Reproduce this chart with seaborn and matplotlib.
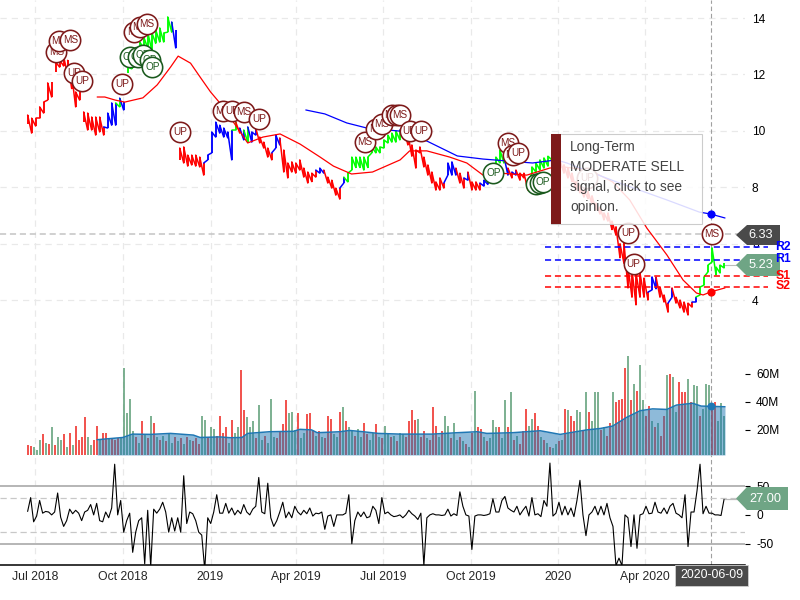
import pandas as pd
import matplotlib
matplotlib.use("Agg")
import matplotlib.pyplot as plt
from matplotlib.patches import Polygon, Rectangle
import seaborn as sns

# daily-ish price range, one entry per sampled session
price_low = [
    10.24, 9.92, 10.17, 10.45, 10.63, 11.09, 11.2, 12.09, 12.26, 12.3, 12.0, 11.5, 10.85, 11.09, 10.31,
    10.03, 10.03, 9.85, 9.96, 9.85, 10.10, 10.2, 10.2, 10.85, 10.74, 12.05, 12.2, 12.5, 12.87, 12.94,
    12.94, 12.87, 13.1, 13.15, 13.15, 13.5, 13.5, 12.94, 8.97, 8.86, 8.75, 8.79, 8.75, 8.72, 8.43,
    8.97, 9.22, 9.78, 9.92, 9.78, 9.75, 8.97, 10.03, 9.92, 9.68, 9.6, 9.6, 9.85, 9.57, 9.39,
    9.07, 8.97, 9.39, 9.5, 8.54, 8.33, 8.54, 8.5, 8.61, 8.36, 8.15, 8.2, 8.36, 8.5, 8.5,
    8.15, 7.97, 7.72, 7.58, 8.15, 8.19, 8.61, 8.7, 8.7, 8.61, 8.7, 9.22, 9.22, 9.22, 9.39,
    9.57, 9.6, 9.6, 9.68, 9.75, 9.5, 9.1, 8.68, 9.22, 8.72, 8.43, 8.15, 7.9, 7.9, 7.97,
    8.43, 8.43, 8.43, 8.15, 7.97, 8.25, 7.9, 7.9, 7.9, 8.04, 8.1, 8.3, 8.86, 8.86, 8.86,
    8.43, 8.33, 8.43, 8.25, 8.33, 7.9, 8.5, 8.54, 8.61, 8.68, 8.75, 8.97, 9.05, 8.72, 8.5,
    8.33, 8.2, 7.9, 7.8, 7.65, 7.6, 7.4, 7.19, 7.05, 6.84, 6.8, 6.5, 6.3, 5.5, 5.3,
    4.43, 4.1, 3.83, 4.1, 4.1, 4.0, 4.36, 4.4, 4.1, 3.93, 3.57, 4.1, 3.89, 3.72, 3.57,
    3.47, 3.75, 3.93, 4.18, 4.53, 5.0, 5.35, 4.89, 4.96, 5.14,
]
price_high = [
    10.56, 10.45, 10.45, 10.85, 11.02, 11.70, 11.73, 12.44, 12.51, 12.62, 12.5, 12.0, 11.38, 11.38, 10.67,
    10.63, 10.49, 10.49, 10.49, 10.14, 10.63, 10.99, 10.99, 11.16, 11.02, 12.27, 12.5, 12.9, 13.15, 13.33,
    13.5, 13.5, 13.58, 13.65, 13.47, 14.04, 13.86, 13.58, 9.39, 9.43, 9.14, 9.14, 9.14, 9.07, 8.86,
    9.14, 9.96, 10.31, 10.2, 10.1, 9.96, 10.03, 10.31, 10.1, 10.03, 10.14, 9.96, 10.1, 9.78, 9.6,
    9.39, 9.22, 9.85, 9.75, 9.32, 8.86, 8.9, 8.86, 8.97, 8.68, 8.54, 8.5, 8.61, 8.68, 8.61,
    8.36, 8.25, 7.97, 7.97, 8.36, 8.5, 9.07, 9.07, 9.07, 9.07, 9.07, 9.43, 9.43, 9.43, 9.68,
    9.85, 9.92, 10.0, 10.03, 10.1, 9.9, 9.5, 9.32, 9.43, 9.07, 8.79, 8.54, 8.19, 8.33, 8.15,
    8.86, 8.9, 8.68, 8.5, 8.33, 8.54, 8.19, 8.19, 8.15, 8.25, 8.3, 8.6, 9.07, 9.32, 9.1,
    8.68, 8.54, 8.61, 8.5, 8.5, 8.2, 8.72, 8.86, 8.97, 9.04, 9.1, 9.32, 9.4, 8.97, 8.8,
    8.68, 8.5, 8.2, 8.05, 7.9, 7.85, 7.7, 7.44, 7.3, 7.09, 7.09, 6.8, 6.6, 6.0, 6.02,
    5.17, 5.07, 4.96, 4.96, 4.78, 4.28, 4.82, 4.82, 4.46, 4.18, 3.89, 4.43, 4.1, 4.0, 3.93,
    3.89, 3.93, 4.11, 4.46, 4.82, 5.24, 5.85, 5.17, 5.24, 5.31,
]
trend_runs = [
    ("red", 20), ("blue", 3), ("lime", 1), ("blue", 1), ("lime", 12), ("blue", 1), ("red", 7), ("blue", 7),
    ("lime", 1), ("red", 1), ("blue", 1), ("lime", 1), ("blue", 2), ("red", 4), ("blue", 2), ("red", 9),
    ("blue", 2), ("red", 4), ("blue", 1), ("lime", 14), ("blue", 1), ("red", 10), ("blue", 3), ("red", 2),
    ("blue", 1), ("red", 3), ("blue", 2), ("lime", 4), ("blue", 1), ("red", 1), ("blue", 1), ("red", 3),
    ("lime", 7), ("blue", 1), ("red", 22), ("blue", 2), ("red", 3), ("blue", 1), ("red", 5), ("blue", 1),
    ("lime", 7),
]

ma_red_dates = [
    "2018-09-04", "2018-09-12", "2018-09-23", "2018-10-03", "2018-10-22", "2018-11-06", "2018-11-20",
    "2018-11-28", "2018-12-11", "2018-12-21", "2019-01-01", "2019-01-09", "2019-01-25", "2019-02-09",
    "2019-02-25", "2019-03-15", "2019-04-05", "2019-04-26", "2019-05-10", "2019-05-29", "2019-06-20",
    "2019-07-19", "2019-07-29", "2019-08-16", "2019-09-09", "2019-09-27", "2019-10-14", "2019-11-01",
    "2019-11-29", "2019-12-23", "2020-01-06", "2020-02-03", "2020-02-27", "2020-03-16", "2020-04-03",
    "2020-04-24", "2020-05-11", "2020-05-25", "2020-06-01", "2020-06-09", "2020-06-24",
]
ma_red = [
    11.2, 11.2, 11.09, 11.02, 11.17, 11.63, 12.26, 12.65, 12.4, 11.91, 11.38, 11.06, 10.31, 9.57, 9.78,
    9.89, 9.53, 9.07, 8.75, 8.47, 8.54, 8.97, 9.29, 9.29, 9.07, 8.86, 8.43, 8.5, 8.43, 8.68, 8.72,
    8.61, 8.19, 7.55, 6.55, 5.6, 4.71, 4.25, 4.18, 4.29, 4.43,
]
ma_blue_dates = [
    "2019-04-11", "2019-05-01", "2019-05-24", "2019-06-14", "2019-07-19", "2019-08-16", "2019-09-17",
    "2019-10-14", "2019-12-05", "2019-12-30", "2020-01-10", "2020-03-02", "2020-04-24", "2020-05-28",
    "2020-06-09", "2020-06-24",
]
ma_blue = [10.74, 10.6, 10.28, 10.1, 9.99, 9.64, 9.11, 9.0, 8.86, 8.97, 8.86, 8.19, 7.55, 7.12, 7.05, 6.91]

# signed volume in millions, negative = down day
volume_signed = [
    -9, -8.5, 8, 6, 13, -17, 11, -10, 22, -9, 15, 13, -17, 8, -18, 9, -23, -13, -15, -29, 15, 9, -13, -23, 13,
    -18, -18, 14, -14, -13, -14, 14, 64, 32, 42, 19, -15, 11, -26, 17, -14, 30, -25, 15, -13, 16, -12, 17, 11, -15,
    12, -14, 10, -15, 13, -12, -14, -10, 30, 27, -14, 22, 21, -16, -30, -18, -22, 11, -27, 18, 22, -63, -34, 29, 22,
    26, -14, 38, 13, -16, 11, 42, 15, -14, -19, -24, -41, 32, 33, 20, -32, 14, 18, -31, -32, -20, 16, -19, 15, -14,
    -30, -28, 17, 15, -33, 36, -26, 22, 19, -16, 21, 15, -25, -17, 13, 18, -24, 15, -14, 23, 18, -15, 16, -12, 18,
    17, -15, -26, -34, -27, 28, -15, -19, 14, -13, -36, -23, 15, -19, 30, 23, -14, 25, 13, -15, 12, -10, 8, -18, 48,
    -22, -21, 15, -12, 14, 27, 22, -22, 14, 41, -22, 47, -13, 16, -10, -19, -35, 23, 28, -32, -23, 15, -13, 11, -8,
    7, 10, -12, 13, -35, 34, -30, -26, 34, 33, -20, 47, -33, 26, 47, 47, -20, 22, -16, -25, 47, -40, -41, -42, -64,
    73, -41, 53, -48, 66, 41, -30, -37, 26, -22, 25, -16, -30, 59, -60, 58, 33, -54, -47, -47, 56, -40, 52, 51, -30,
    35, 53, 52, -35, -40, 26, 39, 30,
]
volume_ma_dates = [
    "2018-09-04", "2018-10-01", "2018-10-11", "2018-10-30", "2018-11-20", "2018-12-14", "2018-12-21",
    "2019-01-11", "2019-01-22", "2019-02-03", "2019-02-09", "2019-03-04", "2019-03-29", "2019-04-05",
    "2019-04-17", "2019-04-23", "2019-05-17", "2019-05-27", "2019-06-10", "2019-06-26", "2019-07-19",
    "2019-08-22", "2019-09-17", "2019-10-08", "2019-10-18", "2019-11-14", "2019-12-13", "2020-01-03",
    "2020-01-31", "2020-02-14", "2020-02-27", "2020-03-13", "2020-03-27", "2020-04-09", "2020-04-24",
    "2020-05-04", "2020-05-21", "2020-05-30", "2020-06-24",
]
volume_ma = [
    13, 14.6, 17, 16.8, 17.5, 16.3, 14.6, 15, 14.4, 14.6, 17.5, 18.7, 19, 20.4, 20, 18, 18.7, 19.6, 18.7, 17.5,
    17, 17, 18, 18.7, 17.5, 18, 19.4, 16.8, 20, 21, 22.7, 29, 33.7, 35, 34.6, 37.7, 39, 37, 36.5,
]

momentum = [
    6, 30, -12, -2, 25, 3, 6, 5, 0, 5, 38, -4, -20, -10, 10, 2, 8, 3, -10, 5, 8, 18, 0, 20, -10,
    -12, 5, -5, 12, 88, 0, 25, -30, -10, 3, -65, -30, -10, -5, -85, 8, -90, 10, 3, 10, 22, 5, -30, -5, -28,
    -5, -30, 68, -15, 5, 2, -10, -30, -35, -95, -5, -15, 5, 35, 3, 3, 20, 3, 12, 0, 8, 2, 18, 5, 0,
    10, 15, 65, 5, 2, 55, -5, -20, -10, 5, 22, -5, 5, -5, 15, 5, 0, 8, 2, 12, -2, 3, 2, 5, -25,
    -2, 0, -20, 0, 0, 0, 3, 35, -50, -10, 5, -3, 5, -5, -3, 15, 8, -15, 30, 2, 5, 0, -3, -2, 0,
    -5, 0, 8, 2, -2, -8, 3, -88, -5, 0, 2, 0, 0, -1, 0, 10, -2, 2, -1, 40, 15, 0, -2, -60, -2,
    0, 0, -1, 0, 2, 28, 5, 5, 25, 32, 12, 8, 5, 15, 0, 8, 15, -2, 30, 0, 2, -3, 25, 15, 90,
    -2, 3, 22, 0, 15, 0, 12, -3, 25, 60, 0, -36, 0, 5, 15, 0, 15, 0, 20, -5, -20, -88, -75, -88, 0,
    -5, -55, 0, -58, 0, 2, 15, 2, 3, 22, 5, 3, 12, 2, 15, 20, 3, 0, -5, 35, -55, 5, 5, 42, 88,
    2, 15, 3, 3, 0, 0, -1, 27,
]

signal_dates = [
    "2018-07-23", "2018-07-26", "2018-08-07", "2018-08-11", "2018-08-19", "2018-09-30", "2018-10-08",
    "2018-10-17", "2018-10-22", "2018-10-29", "2018-11-01", "2018-10-13", "2018-10-19", "2018-10-26",
    "2018-11-30", "2019-01-14", "2019-01-24", "2019-02-05", "2019-02-21", "2019-06-12", "2019-06-24",
    "2019-06-30", "2019-07-10", "2019-07-16", "2019-07-19", "2019-07-29", "2019-08-10", "2019-10-25",
    "2019-11-09", "2019-11-14", "2019-11-20", "2019-12-09", "2019-12-13", "2019-12-16", "2020-01-31",
    "2020-03-14", "2020-03-20", "2020-06-10",
]
signal_prices = [
    12.8, 13.19, 13.22, 12.05, 11.77, 11.66, 12.62, 12.62, 12.69, 12.51, 12.26, 13.5, 13.68, 13.79,
    9.96, 10.7, 10.7, 10.67, 10.42, 9.6, 10.07, 10.24, 10.56, 10.56, 10.56, 9.99, 9.99, 8.5,
    9.57, 9.14, 9.22, 8.1, 8.15, 8.19, 8.33, 6.38, 5.28, 6.34,
]
signal_labels = [
    "MS", "MS", "MS", "UP", "UP", "UP", "OP", "OP", "OP", "OP", "OP", "MS", "MS", "MS",
    "UP", "MS", "UP", "MS", "UP", "MS", "MS", "MS", "MS", "MS", "MS", "UP", "UP", "OP",
    "MS", "MS", "UP", "OP", "OP", "OP", "UP", "UP", "UP", "MS",
]

level_names = ["R2", "R1", "S1", "S2"]
level_values = [5.88, 5.42, 4.85, 4.46]
level_colors = ["blue", "blue", "red", "red"]

tick_dates = ["2018-07-01", "2018-10-01", "2019-01-01", "2019-04-01", "2019-07-01", "2019-10-01", "2020-01-01", "2020-04-01"]
tick_labels = ["Jul 2018", "Oct 2018", "2019", "Apr 2019", "Jul 2019", "Oct 2019", "2020", "Apr 2020"]
price_ticks = [4, 6, 8, 10, 12, 14]
volume_ticks = [20, 40, 60]
volume_tick_labels = ["20M", "40M", "60M"]
momentum_ticks = [-50, 0, 50]
momentum_tick_labels = ["-50", "0", "50"]

cursor_date = pd.Timestamp("2020-06-09")
last_price = 6.33
last_close = 5.23
first_date = "2018-06-23"
last_date = "2020-06-23"

sns.set_style("white")
plt.rcParams["font.family"] = ["Liberation Sans", "DejaVu Sans"]

DARK_RED = "#7d1a1a"
DARK_GREEN = "#1b5a1e"
BAR_RED = "#ee2a24"
BAR_GREEN = "#5f9f78"
TAG_GREY = "#4a4a4a"
TAG_GREEN = "#6fa585"
W, H = 800, 600


def px_rect(x0, y0, x1, y1):
    return [x0 / W, 1 - y1 / H, (x1 - x0) / W, (y1 - y0) / H]


def fig_xy(x, y):
    return x / W, 1 - y / H


fig = plt.figure(figsize=(8, 6), dpi=100)
ax_price = fig.add_axes(px_rect(0, 0, 745, 350))
ax_vol = fig.add_axes(px_rect(0, 350, 745, 455))
ax_mom = fig.add_axes(px_rect(0, 455, 745, 565))

xlim = (pd.Timestamp("2018-05-25"), pd.Timestamp("2020-07-15"))
ticks_x = pd.to_datetime(tick_dates)

# price bars, joined session to session so the ribbon reads as one jagged trace
price_dates = pd.date_range(first_date, last_date, periods=len(price_low))
trend = [c for c, n in trend_runs for _ in range(n)]
ax_price.vlines(price_dates, price_low, price_high, colors=trend, linewidth=1.35, zorder=3)
for i in range(len(price_dates) - 1):
    if price_low[i + 1] <= price_high[i] + 0.35 and price_high[i + 1] >= price_low[i] - 0.35:
        ax_price.plot([price_dates[i], price_dates[i + 1]], [price_high[i], price_low[i + 1]],
                      color=trend[i + 1], linewidth=1.1, zorder=3)

sns.lineplot(x=pd.to_datetime(ma_red_dates), y=ma_red, color="red", linewidth=0.9, ax=ax_price, zorder=4, legend=False)
sns.lineplot(x=pd.to_datetime(ma_blue_dates), y=ma_blue, color="blue", linewidth=0.9, ax=ax_price, zorder=4, legend=False)

for name, value, color in zip(level_names, level_values, level_colors):
    ax_price.hlines(value, pd.Timestamp("2019-12-18"), pd.Timestamp("2020-08-08"), colors=color,
                    linestyles=(0, (4, 2.5)), linewidth=1.1, zorder=5, clip_on=False)

ax_price.axhline(last_price, color="#c4c4c4", linestyle=(0, (4, 2.5)), linewidth=1.1, zorder=2)
ax_price.hlines(last_close, pd.Timestamp(last_date), xlim[1], colors="#bbbbbb", linewidth=0.8, zorder=2)

# signal badges, later ones sit on top of earlier ones
for i, (d, p, lab) in enumerate(zip(signal_dates, signal_prices, signal_labels)):
    col = DARK_GREEN if lab == "OP" else DARK_RED
    d = pd.Timestamp(d)
    sns.scatterplot(x=[d], y=[p], s=215, color="white", edgecolor=col, linewidth=1.15,
                    ax=ax_price, zorder=10 + i, legend=False)
    ax_price.text(d, p, lab, color=col, fontsize=7.2, ha="center", va="center", zorder=10.5 + i)

ax_price.scatter([cursor_date], [7.05], s=24, color="blue", zorder=60)
ax_price.scatter([cursor_date], [4.29], s=24, color="red", zorder=60)

ax_price.set_ylim(14.64 - 350 / 28.2, 14.64)
ax_price.set_yticks(price_ticks)
ax_price.grid(axis="y", color="#e9e9e9", linestyle=(0, (5, 4)), linewidth=0.9)

# volume
vol_dates = pd.date_range(first_date, last_date, periods=len(volume_signed))
vol_values = [abs(v) for v in volume_signed]
vol_colors = [BAR_RED if v < 0 else BAR_GREEN for v in volume_signed]
ax_vol.vlines(vol_dates, 2.1, vol_values, colors=vol_colors, linewidth=1.15, zorder=3)
vol_ma_x = pd.to_datetime(volume_ma_dates)
ax_vol.fill_between(vol_ma_x, 2.1, volume_ma, color="#1f77b4", alpha=0.5, linewidth=0, zorder=4)
sns.lineplot(x=vol_ma_x, y=volume_ma, color="#1f77b4", linewidth=1.1, ax=ax_vol, zorder=5, legend=False)
ax_vol.scatter([cursor_date], [37.2], s=22, color="#1f77b4", zorder=6)
ax_vol.set_ylim(2.1, 77)
ax_vol.set_yticks(volume_ticks)
ax_vol.set_yticklabels(volume_tick_labels)

# momentum
mom_dates = pd.date_range(first_date, last_date, periods=len(momentum))
sns.lineplot(x=mom_dates, y=momentum, color="black", linewidth=0.8, ax=ax_mom, zorder=4, legend=False)
for level in (50, -50):
    ax_mom.axhline(level, color="#b0b0b0", linewidth=1.3, zorder=2)
for level in (30, -30):
    ax_mom.axhline(level, color="#c8c8c8", linestyle=(0, (5, 3)), linewidth=0.9, zorder=2)
ax_mom.hlines(momentum[-1], pd.Timestamp(last_date), xlim[1], colors="#bbbbbb", linewidth=0.9, zorder=2)
ax_mom.set_ylim(-87, 104)
ax_mom.set_yticks(momentum_ticks)
ax_mom.set_yticklabels(momentum_tick_labels)

for ax in (ax_price, ax_vol, ax_mom):
    ax.set_xlim(*xlim)
    ax.set_xticks(ticks_x)
    ax.grid(axis="x", color="#e9e9e9", linestyle=(0, (5, 4)), linewidth=0.9)
    ax.axvline(cursor_date, color="#a0a0a0", linestyle=(0, (4, 2.5)), linewidth=0.8, zorder=1)
    ax.set_xlabel("")
    ax.set_ylabel("")
    ax.yaxis.tick_right()
    ax.tick_params(axis="x", length=0, labelbottom=False)
    for side in ("top", "left", "right", "bottom"):
        ax.spines[side].set_visible(False)
    ax.patch.set_alpha(0)

ax_price.tick_params(axis="y", length=0, pad=5, labelsize=8.6, labelcolor="black")
for ax in (ax_vol, ax_mom):
    ax.tick_params(axis="y", length=3.6, width=0.8, color="black", pad=4.5, labelsize=8.6, labelcolor="black")
    ax.yaxis.grid(False)

ax_mom.grid(axis="y", visible=False)
ax_mom.spines["bottom"].set_visible(True)
ax_mom.spines["bottom"].set_color("black")
ax_mom.spines["bottom"].set_linewidth(1.1)
ax_mom.tick_params(axis="x", labelbottom=True, labelsize=8.8, pad=4)
ax_mom.set_xticklabels(tick_labels)


def add_tag(x0, x1, y0, y1, color, text, text_x):
    tip = x0
    mid = (y0 + y1) / 2
    pts = [fig_xy(tip, mid), fig_xy(tip + 11, y0), fig_xy(x1, y0), fig_xy(x1, y1), fig_xy(tip + 11, y1)]
    fig.add_artist(Polygon(pts, closed=True, facecolor=color, edgecolor="none", transform=fig.transFigure, zorder=5))
    tx, ty = fig_xy(text_x, mid)
    fig.text(tx, ty, text, color="white", fontsize=9.2, ha="center", va="center", zorder=6)


add_tag(736, 780, 225, 245, TAG_GREY, "6.33", 761)
add_tag(736, 780, 254, 276, TAG_GREEN, "5.23", 761)
add_tag(736, 788, 487, 510, TAG_GREEN, "27.00", 765)

# pivot labels sit over the tags
for name, color, y in zip(level_names, level_colors, [247, 259, 276, 286]):
    tx, ty = fig_xy(775.5, y)
    fig.text(tx, ty, name, color=color, fontsize=8.8, fontweight="bold", ha="left", va="center", zorder=7)

# date box under the crosshair
x0, y1 = fig_xy(675, 586)
fig.add_artist(Rectangle((x0, y1), 73 / W, 21 / H, facecolor=TAG_GREY, edgecolor="#d0d0d0", linewidth=0.6,
                         transform=fig.transFigure, zorder=5))
tx, ty = fig_xy(711.5, 575)
fig.text(tx, ty, cursor_date.strftime("%Y-%m-%d"), color="white", fontsize=8.9, ha="center", va="center", zorder=6)

# opinion tooltip
x0, y1 = fig_xy(551, 224)
fig.add_artist(Rectangle((x0, y1), 151 / W, 90 / H, facecolor="white", alpha=0.86, edgecolor="#c4c4c4",
                         linewidth=0.8, transform=fig.transFigure, zorder=8))
fig.add_artist(Rectangle((x0, y1), 10 / W, 90 / H, facecolor=DARK_RED, edgecolor="none",
                         transform=fig.transFigure, zorder=9))
for line, y in zip(["Long-Term", "MODERATE SELL", "signal, click to see", "opinion."], [147, 167, 187, 207]):
    tx, ty = fig_xy(570, y)
    fig.text(tx, ty, line, color="#444444", fontsize=9.9, ha="left", va="center", zorder=10)

fig.savefig("out.png", dpi=100)
